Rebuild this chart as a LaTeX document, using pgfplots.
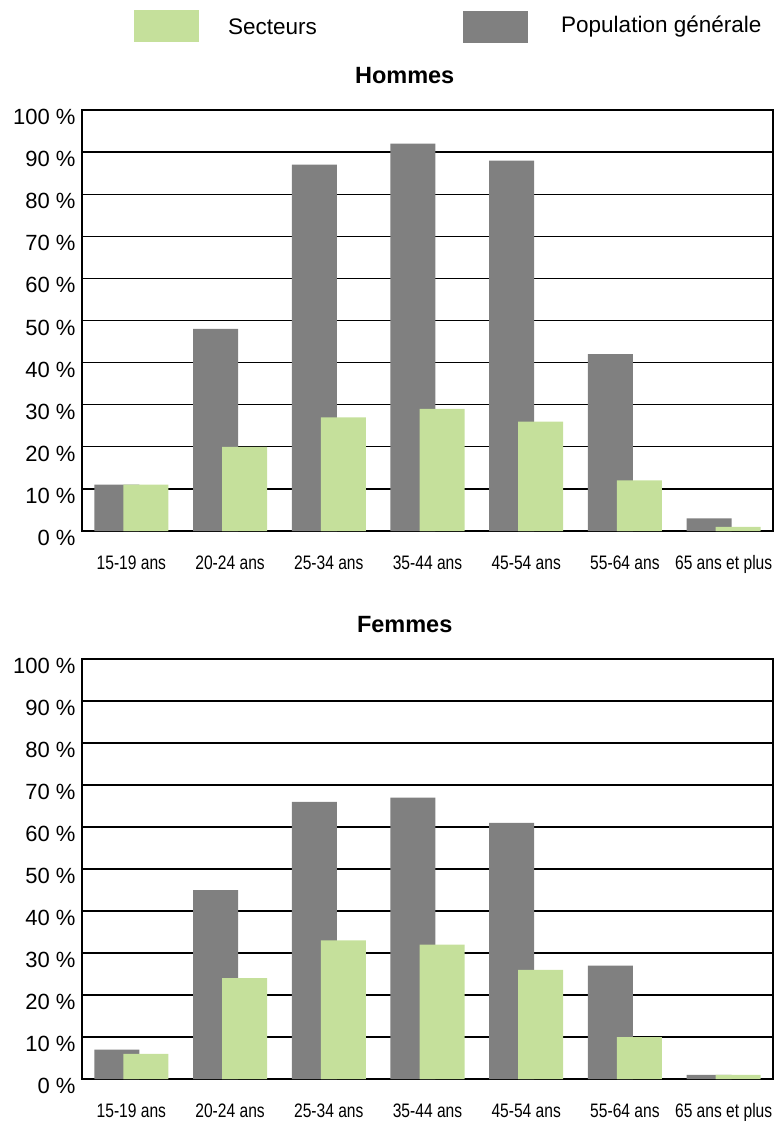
\documentclass[border=0pt]{standalone}
\usepackage{fontspec}
\setmainfont{Liberation Sans}
\usepackage{graphicx}
\usepackage{pgfplots}
\pgfplotsset{compat=1.18}
\definecolor{pgray}{RGB}{128,128,128}
\definecolor{sgreen}{RGB}{197,224,155}

\newcommand{\nl}[1]{\scalebox{0.8}[1]{#1}}
\pgfplotsset{
  myaxis/.style={
    scale only axis, width=691pt, height=421pt,
    xmin=-0.5, xmax=6.5, ymin=0, ymax=100,
    ytick={0,10,...,100},
    xtick={0,...,6},
    xticklabels={\nl{15-19 ans},\nl{20-24 ans},\nl{25-34 ans},\nl{35-44 ans},\nl{45-54 ans},\nl{55-64 ans},\nl{65 ans et plus}},
    major tick length=0pt,
    ymajorgrids, grid style={black, line width=1.3pt},
    axis line style={black, line width=2pt},
    /pgf/number format/assume math mode=true,
    yticklabel={\pgfmathprintnumber{\tick}~\%},
    yticklabel style={font=\fontsize{22}{22}\selectfont, xshift=-3pt, yshift=-7pt},
    xticklabel style={font=\fontsize{19.5}{19.5}\selectfont, anchor=base, yshift=-38.5pt},
    title style={font=\fontsize{23.5}{23.5}\selectfont\bfseries, at={(0.467,1)}, anchor=center, yshift=28pt},
  },
  graybar/.style={ybar, bar width=0.456, bar shift=-0.147, fill=pgray, draw=none},
  greenbar/.style={ybar, bar width=0.456, bar shift=0.147, fill=sgreen, draw=none},
}

\begin{document}
\begin{tikzpicture}
\useasboundingbox (0,0) rectangle (775pt,-1121pt);

% legend
\fill[sgreen] (134pt,-10pt) rectangle (199pt,-42pt);
\node[anchor=west, inner sep=0pt, font=\fontsize{22.5}{22.5}\selectfont] at (228pt,-27pt) {Secteurs};
\fill[pgray] (463pt,-11pt) rectangle (528pt,-43pt);
\node[anchor=west, inner sep=0pt, font=\fontsize{22.5}{22.5}\selectfont] at (561pt,-27pt) {Population générale};

\begin{axis}[myaxis, at={(82pt,-531pt)}, anchor=south west, title={Hommes}]
\addplot[graybar] coordinates {(0,11) (1,48) (2,87) (3,92) (4,88) (5,42) (6,3)};
\addplot[greenbar] coordinates {(0,11) (1,20) (2,27) (3,29) (4,26) (5,12) (6,1)};
\end{axis}

\begin{axis}[myaxis, height=420pt, at={(82pt,-1079pt)}, anchor=south west, title={Femmes}]
\addplot[graybar] coordinates {(0,7) (1,45) (2,66) (3,67) (4,61) (5,27) (6,1)};
\addplot[greenbar] coordinates {(0,6) (1,24) (2,33) (3,32) (4,26) (5,10) (6,1)};
\end{axis}
\end{tikzpicture}
\end{document}
